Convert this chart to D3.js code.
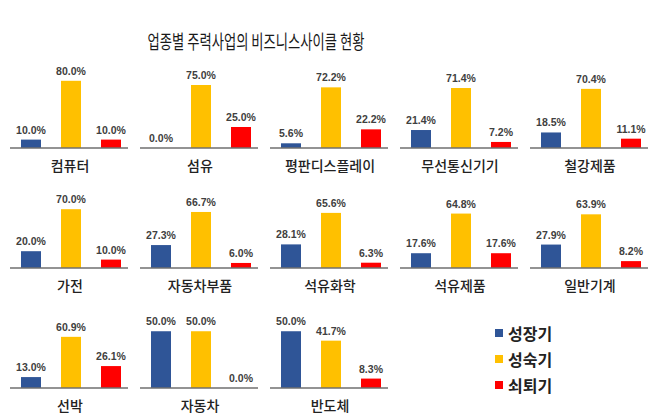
<!DOCTYPE html>
<html><head><meta charset="utf-8">
<script src="https://cdn.jsdelivr.net/npm/d3@7"></script>
<style>body{margin:0;background:#fff}svg{display:block}</style>
</head><body>
<script>
const title = "업종별 주력사업의 비즈니스사이클 현황";
const categories = ["컴퓨터","섬유","평판디스플레이","무선통신기기","철강제품","가전","자동차부품","석유화학","석유제품","일반기계","선박","자동차","반도체"];
const series = ["성장기","성숙기","쇠퇴기"];
const growth =   [10.0, 0.0, 5.6,21.4,18.5,20.0,27.3,28.1,17.6,27.9,13.0,50.0,50.0];
const maturity = [80.0,75.0,72.2,71.4,70.4,70.0,66.7,65.6,64.8,63.9,60.9,50.0,41.7];
const decline =  [10.0,25.0,22.2, 7.2,11.1,10.0, 6.0, 6.3,17.6, 8.2,26.1, 0.0, 8.3];
const axisMax =  [100,100,100,100,100,100,100,100,100,100,100,74,74];
const colors = ["#2F5597","#FFC000","#FF0000"];

const W = 670, H = 415;
const svg = d3.select("body").append("svg").attr("width", W).attr("height", H);
const font = "'Noto Sans CJK KR', 'Noto Sans', sans-serif";

svg.append("text").attr("x", 256).attr("y", 40)
  .attr("text-anchor", "middle").attr("dominant-baseline", "central")
  .attr("font-family", font).attr("font-size", 19).attr("fill", "#1a1a1a")
  .attr("textLength", 217).attr("lengthAdjust", "spacingAndGlyphs")
  .text(title);

const values = categories.map((c, i) => [growth[i], maturity[i], decline[i]]);

categories.forEach((cat, i) => {
  const col = i % 5, row = Math.floor(i / 5);
  const x0 = 10 + 130 * col;
  const base = 148 + 120 * row;
  const x = d3.scaleBand().domain(series).range([x0 + 1, x0 + 121]).paddingInner(0.5).paddingOuter(0.25);
  const y = d3.scaleLinear().domain([0, axisMax[i]]).range([base, base - 84]);
  const g = svg.append("g");
  const data = series.map((s, k) => ({s, v: values[i][k], c: colors[k]}));
  g.selectAll("rect").data(data).join("rect")
    .attr("x", d => x(d.s)).attr("width", x.bandwidth())
    .attr("y", d => y(d.v)).attr("height", d => base - y(d.v))
    .attr("fill", d => d.c);
  g.selectAll("text.v").data(data).join("text").attr("class", "v")
    .attr("x", d => x(d.s) + x.bandwidth() / 2).attr("y", d => y(d.v) - 6)
    .attr("text-anchor", "middle")
    .attr("font-family", "'Liberation Sans', Arial, sans-serif").attr("font-weight", "bold")
    .attr("font-size", 10.5).attr("fill", "#404040")
    .text(d => d.v.toFixed(1) + "%");
  g.append("line").attr("x1", x0).attr("x2", x0 + 118).attr("y1", base).attr("y2", base)
    .attr("stroke", "#6f6f6f").attr("stroke-width", 1.5);
  g.append("text").attr("x", x0 + 60).attr("y", base + 17)
    .attr("text-anchor", "middle").attr("dominant-baseline", "central")
    .attr("font-family", font).attr("font-size", 14).attr("font-weight", 500).attr("fill", "#222")
    .text(cat);
});

const lg = svg.append("g");
series.forEach((s, k) => {
  const cy = 333 + 26 * k;
  lg.append("rect").attr("x", 495).attr("y", cy - 4).attr("width", 8).attr("height", 8).attr("fill", colors[k]);
  lg.append("text").attr("x", 508).attr("y", cy).attr("dominant-baseline", "central")
    .attr("font-family", font).attr("font-size", 16).attr("font-weight", "bold").attr("fill", "#222")
    .text(s);
});
</script>
</body></html>
